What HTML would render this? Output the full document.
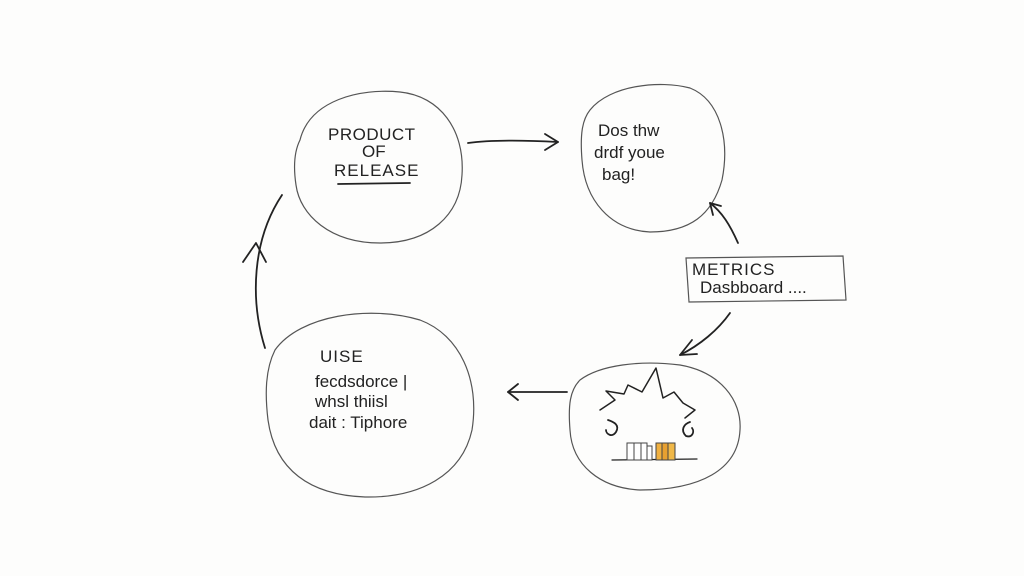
<!DOCTYPE html>
<html><head><style>
html,body{margin:0;padding:0;background:#fdfdfc;}
svg{display:block}
text{font-family:"Liberation Sans",sans-serif;fill:#222;}
</style></head><body>
<svg width="1024" height="576" viewBox="0 0 1024 576">
<rect width="1024" height="576" fill="#fdfdfc"/>
<g fill="none" stroke="#555" stroke-width="1.2">
<path d="M300,140 C310,100 360,88 400,92 C440,96 465,130 462,175 C460,215 430,243 380,243 C330,243 300,215 296,185 C293,165 295,150 300,140Z"/>
<path d="M590,110 C610,85 660,80 690,88 C720,100 730,140 722,180 C712,215 690,232 650,232 C610,230 585,200 582,160 C580,135 582,120 590,110Z"/>
<path d="M275,350 C300,315 370,305 420,320 C460,335 480,380 472,430 C462,475 420,498 365,497 C310,495 275,470 268,420 C265,395 265,370 275,350Z"/>
<path d="M580,380 C600,365 640,360 680,365 C720,372 742,400 740,430 C738,470 700,490 640,490 C600,488 572,465 570,430 C568,405 570,390 580,380Z"/>
<path d="M686,258 L843,256 L846,300 L689,302 Z"/>
</g>
<g fill="none" stroke="#222" stroke-width="1.8" stroke-linecap="round" stroke-linejoin="round">
<path d="M468,143 C490,140 520,140 558,142"/><path d="M545,134 L558,142 L545,150"/>
<path d="M738,243 C730,225 722,212 710,203"/><path d="M710,203 L721,206 M710,203 L713,215"/>
<path d="M730,313 C718,330 700,345 680,355"/><path d="M680,355 L692,340 M680,355 L697,354"/>
<path d="M567,392 C550,392 530,392 508,392"/><path d="M518,384 L508,392 L518,400"/>
<path d="M265,348 C250,300 252,240 282,195"/><path d="M243,262 L256,243 L266,262"/>
<path d="M338,184 L410,183"/>
<path d="M600,410 L615,400 L606,391 L624,394 L628,385 L642,392 L656,368 L663,398 L674,392 L683,403 L695,410 L685,418" stroke-width="1.5"/>
<path d="M608,420 C614,422 620,425 616,432 C612,438 606,434 606,430"/>
<path d="M690,422 C684,424 680,430 686,436 C692,438 695,432 692,428"/>
<path d="M612,460 L697,459" stroke-width="1.2"/>
</g>
<g stroke="#444" stroke-width="1" fill="#fff">
<rect x="627" y="443" width="7" height="17"/><rect x="634" y="443" width="7" height="17"/><rect x="641" y="443" width="6" height="17"/><rect x="647" y="446" width="5" height="14"/>
<rect x="656" y="443" width="6" height="17" fill="#f0b040"/><rect x="662" y="443" width="6" height="17" fill="#e8a030"/><rect x="668" y="443" width="7" height="17" fill="#f0b848"/>
</g>
<g font-size="17">
<text x="328" y="140" letter-spacing="0.5">PRODUCT</text>
<text x="362" y="157">OF</text>
<text x="334" y="176" letter-spacing="1">RELEASE</text>
<text x="598" y="136">Dos thw</text>
<text x="594" y="158">drdf youe</text>
<text x="602" y="180">bag!</text>
<text x="692" y="275" letter-spacing="1">METRICS</text>
<text x="700" y="293">Dasbboard ....</text>
<text x="320" y="362" letter-spacing="1">UISE</text>
<text x="315" y="387">fecdsdorce |</text>
<text x="315" y="407">whsl thiisl</text>
<text x="309" y="428">dait : Tiphore</text>
</g>
</svg>
</body></html>
